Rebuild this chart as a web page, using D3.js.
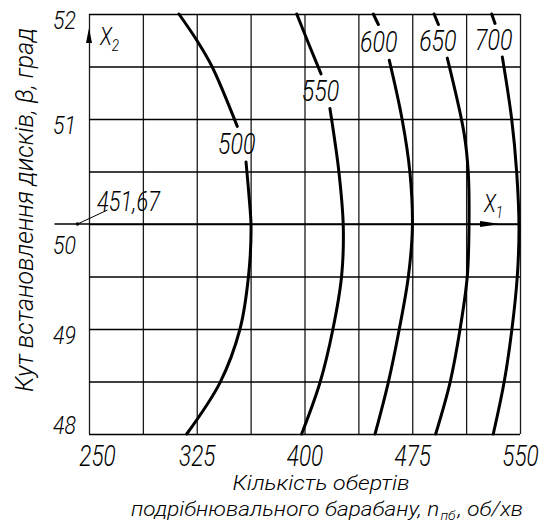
<!DOCTYPE html>
<html>
<head>
<meta charset="utf-8">
<script src="https://cdn.jsdelivr.net/npm/d3@7/dist/d3.min.js"></script>
<style>
  html, body { margin: 0; padding: 0; background: #fff; }
  svg text { font-family: Roboto, "DejaVu Sans", sans-serif; font-style: italic; font-weight: 300; fill: #000; }
</style>
</head>
<body>
<div id="chart"></div>
<script>
// grid and tick values
const xGrid = [250, 287.5, 325, 362.5, 400, 437.5, 475, 512.5, 550];
const yGrid = [48, 48.5, 49, 49.5, 50, 50.5, 51, 51.5, 52];
const xTicks = [250, 325, 400, 475, 550];
const yTicks = [48, 49, 50, 51, 52];

// contour levels and their lines [n, beta]; null = gap for the label
const levels = [500, 550, 600, 650, 700];
const contour500 = [[312.6, 52], [325.0, 51.75], [335.6, 51.5], [353.2, 50.93], null,
  [359.3, 50.59], [361.6, 50.23], [362.8, 49.97], [361.0, 49.5], [355.1, 49.0], [341.2, 48.49], [318.0, 48.0]];
const contour550 = [[394.6, 52], [403.1, 51.71], [411.5, 51.43], null,
  [417.7, 51.1], [424.0, 50.49], [427.0, 49.97], [425.8, 49.5], [419.8, 49.0], [410.8, 48.49], [398.0, 48.0]];
const contour600 = [[447.9, 52], [451.4, 51.9], null,
  [459.0, 51.56], [467.9, 51.0], [473.4, 50.49], [475.1, 49.97], [472.3, 49.5], [466.0, 49.0], [458.3, 48.49], [449.1, 48.0]];
const contour650 = [[490.2, 52], [493.2, 51.9], null,
  [499.4, 51.58], [511.0, 50.87], [514.0, 50.49], [514.5, 49.97], [513.3, 49.5], [508.3, 49.0], [501.3, 48.49], [491.3, 48.0]];
const contour700 = [[530.3, 52], [532.6, 51.91], null,
  [537.7, 51.59], [544.2, 51.0], [547.7, 50.49], [549.3, 49.97], [548.1, 49.5], [544.4, 49.0], [538.9, 48.49], [531.4, 48.0]];
const contours = [contour500, contour550, contour600, contour650, contour700];

// centre of the plan
const centreN = 242;
const centreBeta = 50;
const centreValue = '451,67';

const xTitle1 = 'Кількість обертів';
const xTitle2 = 'подрібнювального барабану, n';
const xTitleSub = 'пб';
const xTitle3 = ', об/хв';
const yTitle = 'Кут встановлення дисків, β, град';

const W = 544, H = 528;
const m = { left: 89, right: 520, top: 14, bottom: 434 };

const svg = d3.select('#chart').append('svg')
  .attr('width', W)
  .attr('height', H);

const x = d3.scaleLinear().domain([250, 550]).range([m.left, m.right]);
const y = d3.scaleLinear().domain([48, 52]).range([m.bottom, m.top]);

// vertical grid
svg.append('g')
  .attr('transform', 'translate(0,' + m.bottom + ')')
  .call(d3.axisBottom(x).tickValues(xGrid).tickSize(-(m.bottom - m.top)).tickFormat(''))
  .call(g => g.select('.domain').remove())
  .call(g => g.selectAll('line').attr('stroke', '#1a1a1a').attr('stroke-width', 1.3));

// horizontal grid
svg.append('g')
  .attr('transform', 'translate(' + m.left + ',0)')
  .call(d3.axisLeft(y).tickValues(yGrid).tickSize(-(m.right - m.left)).tickFormat(''))
  .call(g => g.select('.domain').remove())
  .call(g => g.selectAll('line').attr('stroke', '#000').attr('stroke-width', 1.4));

// x tick labels
svg.append('g')
  .attr('transform', 'translate(0,' + m.bottom + ')')
  .call(d3.axisBottom(x).tickValues(xTicks).tickSize(0).tickFormat(d3.format('d')))
  .call(g => g.select('.domain').remove())
  .call(g => g.selectAll('text')
    .attr('y', 32).attr('dy', null)
    .attr('font-size', 29)
    .attr('dx', (d, i) => i === 0 ? 8 / 0.78 : 0)
    .attr('transform', 'scale(0.78,1)'));

// y tick labels
svg.append('g')
  .attr('transform', 'translate(' + m.left + ',0)')
  .call(d3.axisLeft(y).tickValues(yTicks).tickSize(0).tickFormat(d3.format('d')))
  .call(g => g.select('.domain').remove())
  .call(g => g.selectAll('text')
    .attr('x', -13 / 0.82)
    .attr('dy', null)
    .attr('y', d => d === centreBeta ? 30 : (d === 48 ? -1 : 14))
    .attr('font-size', 26)
    .attr('transform', 'scale(0.82,1)'));

// X1 axis line through the centre, X2 arrow on the left edge
const cx = x(centreN), cy = y(centreBeta);
svg.append('line')
  .attr('x1', cx - 23).attr('x2', m.right)
  .attr('y1', cy).attr('y2', cy)
  .attr('stroke', '#000').attr('stroke-width', 1.4);

svg.append('path')
  .attr('d', `M${m.right - 40},${cy - 3}L${m.right - 20},${cy}L${m.right - 40},${cy + 3}Z`)
  .attr('fill', '#000');
svg.append('path')
  .attr('d', `M${m.left - 3},${m.top + 29}L${m.left},${m.top + 14}L${m.left + 3},${m.top + 29}Z`)
  .attr('fill', '#000');

const x1Label = svg.append('text').attr('transform', `translate(${m.right - 36},${cy - 12}) scale(0.8,1)`).attr('font-size', 25);
x1Label.append('tspan').text('X');
x1Label.append('tspan').attr('font-size', 17).attr('dy', 6).text('1');
const x2Label = svg.append('text').attr('transform', `translate(${m.left + 11},${m.top + 31}) scale(0.8,1)`).attr('font-size', 25);
x2Label.append('tspan').text('X');
x2Label.append('tspan').attr('font-size', 17).attr('dy', 6).text('2');

// centre point and value
svg.append('circle').attr('cx', cx).attr('cy', cy).attr('r', 1.8).attr('fill', '#000');
svg.append('line')
  .attr('x1', cx).attr('y1', cy).attr('x2', cx + 30).attr('y2', cy - 14)
  .attr('stroke', '#000').attr('stroke-width', 1);
svg.append('text')
  .attr('transform', `translate(${cx + 51},${cy - 13}) scale(0.78,1)`)
  .attr('text-anchor', 'middle')
  .attr('font-size', 28)
  .text(centreValue);

// contour lines
const line = d3.line()
  .defined(d => d !== null)
  .x(d => x(d[0]))
  .y(d => y(d[1]))
  .curve(d3.curveCatmullRom.alpha(0.5));

svg.append('g')
  .selectAll('path')
  .data(contours)
  .join('path')
  .attr('d', line)
  .attr('fill', 'none')
  .attr('stroke', '#000')
  .attr('stroke-width', 3)
  .attr('stroke-linecap', 'round');

// contour labels sit in the gap of each line
contours.forEach((c, i) => {
  const k = c.indexOf(null);
  const a = c[k - 1], b = c[k + 1];
  const mx = (x(a[0]) + x(b[0])) / 2 - 5;
  const my = (y(a[1]) + y(b[1])) / 2 + 10;
  svg.append('text')
    .attr('transform', `translate(${mx},${my}) scale(0.8,1)`)
    .attr('text-anchor', 'middle')
    .attr('font-size', 29)
    .text(levels[i]);
});

// axis titles
svg.append('text')
  .attr('x', 321).attr('y', 490)
  .attr('text-anchor', 'middle')
  .attr('font-size', 21)
  .attr('textLength', 177).attr('lengthAdjust', 'spacingAndGlyphs')
  .text(xTitle1);

// second title line: main text, subscript and unit as separate pieces, squeezed to the width
const t2 = svg.append('g');
const partA = t2.append('text').attr('font-size', 21).text(xTitle2);
const wA = partA.node().getComputedTextLength();
const partB = t2.append('text').attr('font-size', 13).attr('x', wA + 1).attr('y', 4).text(xTitleSub);
const wB = partB.node().getComputedTextLength();
const partC = t2.append('text').attr('font-size', 21).attr('x', wA + wB + 3).text(xTitle3);
const wAll = wA + wB + 3 + partC.node().getComputedTextLength();
t2.attr('transform', `translate(131,516) scale(${392 / wAll},1)`);

svg.append('text')
  .attr('transform', 'translate(33,210) rotate(-90)')
  .attr('text-anchor', 'middle')
  .attr('font-size', 25)
  .attr('textLength', 364).attr('lengthAdjust', 'spacingAndGlyphs')
  .text(yTitle);
</script>
</body>
</html>
